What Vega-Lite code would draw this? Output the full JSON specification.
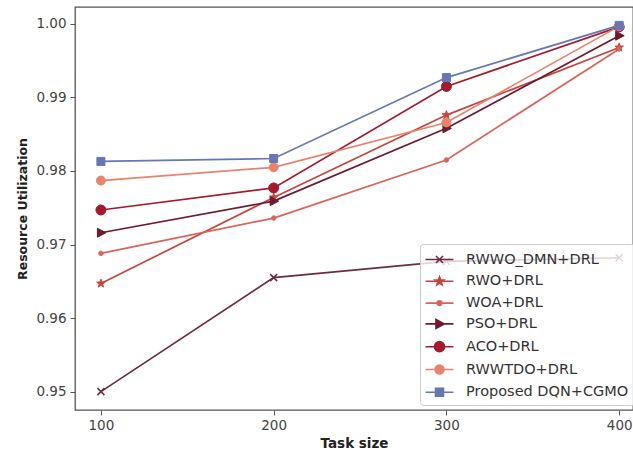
{
  "$schema": "https://vega.github.io/schema/vega-lite/v6.json",
  "width": 558,
  "height": 403,
  "autosize": {"type": "none"},
  "padding": {"left": 75, "top": 7, "right": 0, "bottom": 47},
  "background": "white",
  "config": {
    "font": "DejaVu Sans",
    "view": {"stroke": "#555555", "strokeWidth": 1.3},
    "axis": {"grid": false, "domain": false, "tickColor": "#555555", "tickSize": 5, "labelFont": "DejaVu Sans", "labelFontSize": 13.5, "labelColor": "#444444", "titleFont": "DejaVu Sans", "titleFontWeight": "bold", "titleColor": "#222222"},
    "legend": {"title": null, "orient": "none", "legendX": 345, "legendY": 237, "padding": 5, "symbolSize": 361, "symbolOffset": 4, "labelOffset": 16, "rowPadding": 3.8, "symbolStrokeWidth": 1.6, "symbolOpacity": 1, "labelFontSize": 14.5, "labelFont": "DejaVu Sans", "labelColor": "#333333", "fillColor": "rgba(255,255,255,0.8)", "strokeColor": "#cccccc", "cornerRadius": 3, "labelLimit": 300}
  },
  "data": {"values": [
    {"method": "RWWO_DMN+DRL", "task": 100, "value": 0.9500},
    {"method": "RWWO_DMN+DRL", "task": 200, "value": 0.9655},
    {"method": "RWWO_DMN+DRL", "task": 300, "value": 0.9677},
    {"method": "RWWO_DMN+DRL", "task": 400, "value": 0.9682},
    {"method": "RWO+DRL", "task": 100, "value": 0.9647},
    {"method": "RWO+DRL", "task": 200, "value": 0.9764},
    {"method": "RWO+DRL", "task": 300, "value": 0.9876},
    {"method": "RWO+DRL", "task": 400, "value": 0.9968},
    {"method": "WOA+DRL", "task": 100, "value": 0.9688},
    {"method": "WOA+DRL", "task": 200, "value": 0.9736},
    {"method": "WOA+DRL", "task": 300, "value": 0.9815},
    {"method": "WOA+DRL", "task": 400, "value": 0.9966},
    {"method": "PSO+DRL", "task": 100, "value": 0.9716},
    {"method": "PSO+DRL", "task": 200, "value": 0.9759},
    {"method": "PSO+DRL", "task": 300, "value": 0.9858},
    {"method": "PSO+DRL", "task": 400, "value": 0.9984},
    {"method": "ACO+DRL", "task": 100, "value": 0.9747},
    {"method": "ACO+DRL", "task": 200, "value": 0.9777},
    {"method": "ACO+DRL", "task": 300, "value": 0.9915},
    {"method": "ACO+DRL", "task": 400, "value": 0.9996},
    {"method": "RWWTDO+DRL", "task": 100, "value": 0.9787},
    {"method": "RWWTDO+DRL", "task": 200, "value": 0.9805},
    {"method": "RWWTDO+DRL", "task": 300, "value": 0.9866},
    {"method": "RWWTDO+DRL", "task": 400, "value": 0.9997},
    {"method": "Proposed DQN+CGMO", "task": 100, "value": 0.9813},
    {"method": "Proposed DQN+CGMO", "task": 200, "value": 0.9817},
    {"method": "Proposed DQN+CGMO", "task": 300, "value": 0.9927},
    {"method": "Proposed DQN+CGMO", "task": 400, "value": 0.9998}
  ]},
  "encoding": {
    "x": {"field": "task", "type": "quantitative", "title": "Task size",
      "scale": {"domain": [85, 408], "nice": false, "zero": false},
      "axis": {"values": [100, 200, 300, 400], "labelPadding": 3, "titlePadding": 5, "titleFontSize": 13.5}},
    "y": {"field": "value", "type": "quantitative", "title": "Resource Utilization",
      "scale": {"domain": [0.9475, 1.0023], "nice": false, "zero": false},
      "axis": {"values": [0.95, 0.96, 0.97, 0.98, 0.99, 1.0], "format": ".2f", "labelPadding": 4, "titlePadding": 6, "titleFontSize": 12.5}}
  },
  "layer": [
    {
      "mark": {"type": "line", "strokeWidth": 1.7},
      "encoding": {
        "stroke": {"field": "method", "type": "nominal",
          "scale": {"domain": ["RWWO_DMN+DRL", "RWO+DRL", "WOA+DRL", "PSO+DRL", "ACO+DRL", "RWWTDO+DRL", "Proposed DQN+CGMO"],
                    "range": ["#6d2a45", "#c8443e", "#d9645a", "#6e1a30", "#a31b2e", "#e8836e", "#6677b4"]}}
      }
    },
    {"transform": [{"filter": "datum.method === 'RWWO_DMN+DRL'"}],
     "mark": {"type": "point", "size": 100, "shape": "M-0.7,-0.7L0.7,0.7M-0.7,0.7L0.7,-0.7", "stroke": "#6d2a45", "fill": "#6d2a45", "strokeWidth": 1.5, "opacity": 1}},
    {"transform": [{"filter": "datum.method === 'RWO+DRL'"}],
     "mark": {"type": "point", "size": 100, "shape": "M0,-0.9L0.212,-0.292L0.856,-0.278L0.347,0.113L0.529,0.728L0,0.36L-0.529,0.728L-0.347,0.113L-0.856,-0.278L-0.212,-0.292Z", "stroke": "#c8443e", "fill": "#c8443e", "strokeWidth": 1, "opacity": 1}},
    {"transform": [{"filter": "datum.method === 'WOA+DRL'"}],
     "mark": {"type": "point", "size": 100, "shape": "M-0.45,0A0.45,0.45,0,1,0,0.45,0A0.45,0.45,0,1,0,-0.45,0Z", "stroke": "#d9645a", "fill": "#d9645a", "strokeWidth": 1, "opacity": 1}},
    {"transform": [{"filter": "datum.method === 'PSO+DRL'"}],
     "mark": {"type": "point", "size": 100, "shape": "M-0.7,-0.9L1,0L-0.7,0.9Z", "stroke": "#6e1a30", "fill": "#6e1a30", "strokeWidth": 1, "opacity": 1}},
    {"transform": [{"filter": "datum.method === 'ACO+DRL'"}],
     "mark": {"type": "point", "size": 100, "shape": "M-1,0A1,1,0,1,0,1,0A1,1,0,1,0,-1,0Z", "stroke": "#a31b2e", "fill": "#a31b2e", "strokeWidth": 1, "opacity": 1}},
    {"transform": [{"filter": "datum.method === 'RWWTDO+DRL'"}],
     "mark": {"type": "point", "size": 100, "shape": "M-0.9,0A0.9,0.9,0,1,0,0.9,0A0.9,0.9,0,1,0,-0.9,0Z", "stroke": "#e8836e", "fill": "#e8836e", "strokeWidth": 1, "opacity": 1}},
    {"transform": [{"filter": "datum.method === 'Proposed DQN+CGMO'"}],
     "mark": {"type": "point", "size": 100, "shape": "M-0.8,-0.8H0.8V0.8H-0.8Z", "stroke": "#6677b4", "fill": "#6677b4", "strokeWidth": 1, "opacity": 1}},
    {
      "mark": {"type": "point", "size": 361, "opacity": 0.001, "strokeWidth": 1.6},
      "encoding": {
        "stroke": {"field": "method", "type": "nominal",
          "scale": {"domain": ["RWWO_DMN+DRL", "RWO+DRL", "WOA+DRL", "PSO+DRL", "ACO+DRL", "RWWTDO+DRL", "Proposed DQN+CGMO"],
                    "range": ["#6d2a45", "#c8443e", "#d9645a", "#6e1a30", "#a31b2e", "#e8836e", "#6677b4"]}},
        "fill": {"field": "method", "type": "nominal",
          "scale": {"domain": ["RWWO_DMN+DRL", "RWO+DRL", "WOA+DRL", "PSO+DRL", "ACO+DRL", "RWWTDO+DRL", "Proposed DQN+CGMO"],
                    "range": ["#6d2a45", "#c8443e", "#d9645a", "#6e1a30", "#a31b2e", "#e8836e", "#6677b4"]}},
        "shape": {"field": "method", "type": "nominal",
          "scale": {"domain": ["RWWO_DMN+DRL", "RWO+DRL", "WOA+DRL", "PSO+DRL", "ACO+DRL", "RWWTDO+DRL", "Proposed DQN+CGMO"],
                    "range": [
                      "M-1.47,0H1.47M-0.37,-0.37L0.37,0.37M-0.37,0.37L0.37,-0.37",
                      "M-1.47,0H1.47M0,-0.47L0.111,-0.153L0.447,-0.145L0.181,0.059L0.276,0.38L0,0.188L-0.276,0.38L-0.181,0.059L-0.447,-0.145L-0.111,-0.153Z",
                      "M-1.47,0H1.47M-0.24,0A0.24,0.24,0,1,0,0.24,0A0.24,0.24,0,1,0,-0.24,0Z",
                      "M-1.47,0H1.47M-0.37,-0.47L0.5,0L-0.37,0.47Z",
                      "M-1.47,0H1.47M-0.53,0A0.53,0.53,0,1,0,0.53,0A0.53,0.53,0,1,0,-0.53,0Z",
                      "M-1.47,0H1.47M-0.47,0A0.47,0.47,0,1,0,0.47,0A0.47,0.47,0,1,0,-0.47,0Z",
                      "M-1.47,0H1.47M-0.42,-0.42H0.42V0.42H-0.42Z"
                    ]}}
      }
    }
  ]
}
